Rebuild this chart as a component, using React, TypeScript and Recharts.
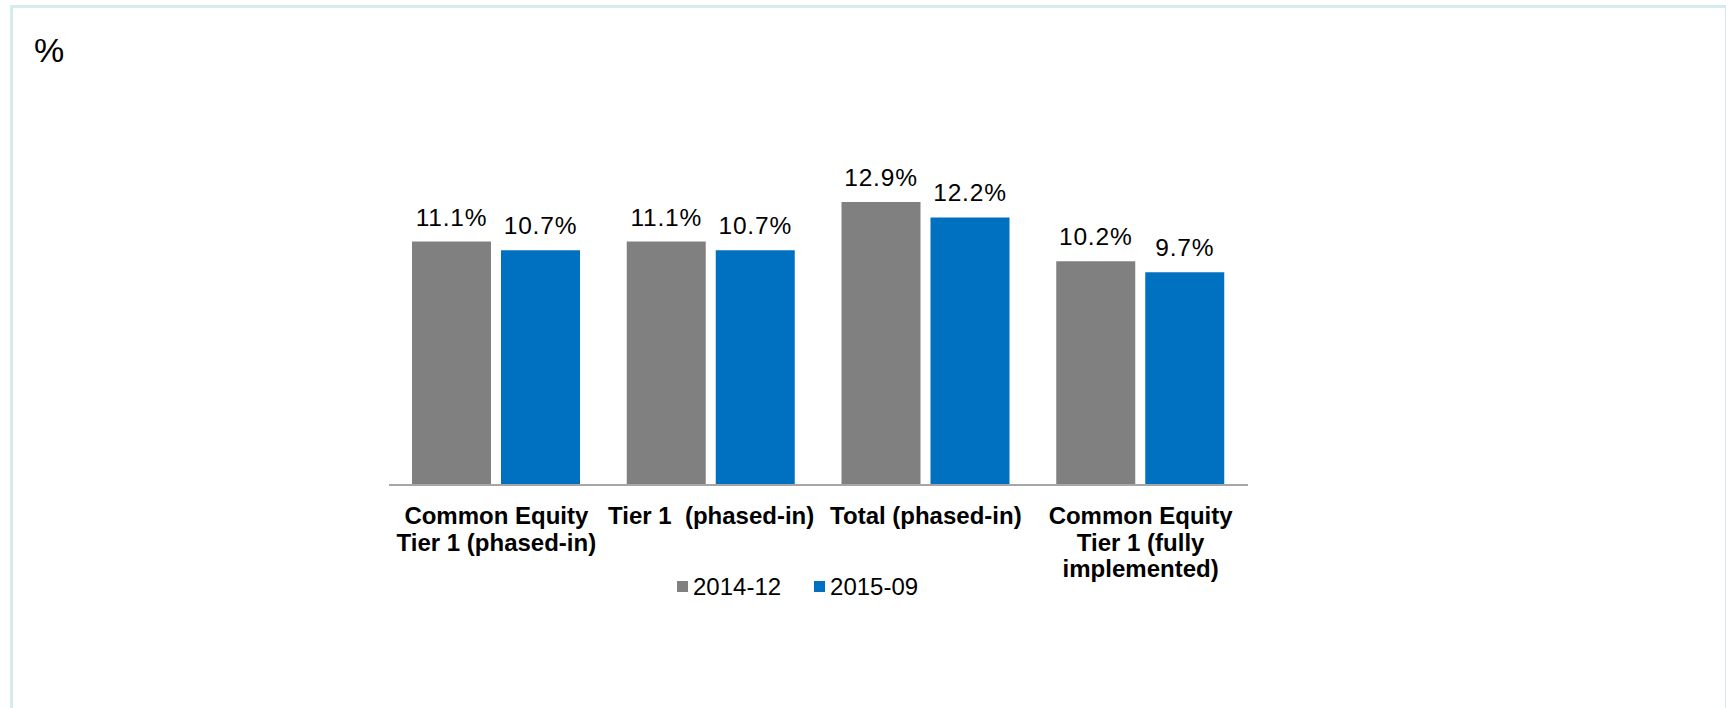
import { BarChart, Bar, XAxis, YAxis, LabelList, Legend } from 'recharts';

// capital ratios, %
const categories = [
  'Common Equity\nTier 1 (phased-in)',
  'Tier 1  (phased-in)',
  'Total (phased-in)',
  'Common Equity\nTier 1 (fully\nimplemented)',
];
const dec2014 = [11.1, 11.1, 12.9, 10.2];
const sep2015 = [10.7, 10.7, 12.2, 9.7];
const yDomain = [0, 14];

const data = categories.map((name, i) => ({
  name,
  d2014: dec2014[i],
  d2015: sep2015[i],
}));

const FONT = '"Liberation Sans", Arial, sans-serif';
const GRAY = '#808080';
const BLUE = '#0070c0';

function CategoryTick(props: any) {
  const { x, y, payload } = props;
  const lines = String(payload.value).split('\n');
  return (
    <text
      x={x}
      y={y}
      textAnchor="middle"
      fontFamily={FONT}
      fontWeight="bold"
      fontSize={24}
      fill="#000"
      style={{ whiteSpace: 'pre' }}
    >
      {lines.map((l, i) => (
        <tspan key={i} x={x} dy={i === 0 ? 39 : 26.7}>
          {l}
        </tspan>
      ))}
    </text>
  );
}

function LegendContent(props: any) {
  const { payload } = props;
  return (
    <div style={{ display: 'flex', alignItems: 'center', fontFamily: FONT, fontSize: 24, lineHeight: '27px', color: '#000' }}>
      {payload.map((p: any, i: number) => (
        <div key={p.value} style={{ display: 'flex', alignItems: 'center', marginLeft: i === 0 ? 0 : 33 }}>
          <span style={{ width: 11, height: 11, background: p.color, marginRight: 5, display: 'inline-block' }} />
          <span>{p.value}</span>
        </div>
      ))}
    </div>
  );
}

const labelStyle = { fontFamily: FONT, fontSize: 24.5, letterSpacing: 0.8, fill: '#000' };

export default function App() {
  return (
    <div style={{ position: 'absolute', left: 0, top: 0, width: 1726, height: 708, background: '#fff', overflow: 'hidden' }}>
      <div
        style={{
          position: 'absolute',
          left: 10,
          top: 5,
          width: 1718,
          height: 760,
          border: '3px solid #d5ecee',
          boxSizing: 'border-box',
        }}
      />
      <div style={{ position: 'absolute', left: 34, top: 33, fontFamily: FONT, fontSize: 34, lineHeight: '34px', color: '#000' }}>
        %
      </div>
      <div style={{ position: 'absolute', left: 0, top: 0 }}>
        <BarChart
          width={1726}
          height={708}
          data={data}
          margin={{ top: 178, right: 478, bottom: 222, left: 389 }}
          barSize={79}
          barGap={10}
        >
          <XAxis
            dataKey="name"
            axisLine={{ stroke: '#a6a6a6', strokeWidth: 2 }}
            tickLine={false}
            tickSize={0}
            tickMargin={0}
            interval={0}
            tick={<CategoryTick />}
            height={1}
          />
          <YAxis hide domain={yDomain} width={0} />
          <Legend
            layout="horizontal"
            verticalAlign="middle"
            align="center"
            wrapperStyle={{ left: 677, top: 573, width: 'auto' }}
            content={<LegendContent />}
          />
          <Bar dataKey="d2014" name="2014-12" fill={GRAY} isAnimationActive={false}>
            <LabelList
              dataKey="d2014"
              position="top"
              offset={16}
              formatter={(v: any) => `${Number(v).toFixed(1)}%`}
              style={labelStyle}
            />
          </Bar>
          <Bar dataKey="d2015" name="2015-09" fill={BLUE} isAnimationActive={false}>
            <LabelList
              dataKey="d2015"
              position="top"
              offset={16}
              formatter={(v: any) => `${Number(v).toFixed(1)}%`}
              style={labelStyle}
            />
          </Bar>
        </BarChart>
      </div>
    </div>
  );
}
